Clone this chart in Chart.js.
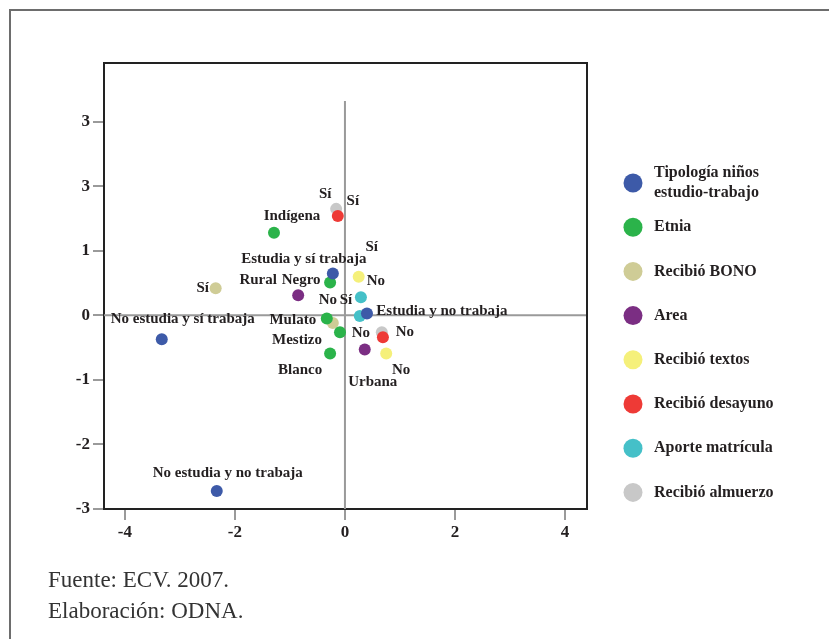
<!DOCTYPE html>
<html>
<head>
<meta charset="utf-8">
<script src="https://cdn.jsdelivr.net/npm/chart.js@4/dist/chart.umd.min.js"></script>
<style>
html,body{margin:0;padding:0;background:#fff;}
canvas{display:block;}
</style>
</head>
<body>
<canvas id="c" width="829" height="639"></canvas>
<script>
// ---------- DATA ----------
const X_TICKS = [-4, -2, 0, 2, 4];
const Y_TICKS = [-3, -2, -1, 0, 1, 2, 3];
const Y_TICK_LABELS = ['-3', '-2', '-1', '0', '1', '3', '3'];

const SERIES_NAMES = [
  ['Tipología niños', 'estudio-trabajo'],
  ['Etnia'],
  ['Recibió BONO'],
  ['Area'],
  ['Recibió textos'],
  ['Recibió desayuno'],
  ['Aporte matrícula'],
  ['Recibió almuerzo']
];

const tipologiaX = [-0.22, 0.40, -3.33, -2.33];
const tipologiaY = [0.65, 0.03, -0.37, -2.72];
const tipologiaLabels = ['Estudia y sí trabaja', 'Estudia y no trabaja', 'No estudia y sí trabaja', 'No estudia y no trabaja'];

const etniaX = [-1.29, -0.27, -0.33, -0.09, -0.27];
const etniaY = [1.28, 0.51, -0.05, -0.26, -0.59];
const etniaLabels = ['Indígena', 'Negro', 'Mulato', 'Mestizo', 'Blanco'];

const bonoX = [-2.35, -0.22];
const bonoY = [0.42, -0.12];
const bonoLabels = ['Sí', 'No'];

const areaX = [-0.85, 0.36];
const areaY = [0.31, -0.53];
const areaLabels = ['Rural', 'Urbana'];

const textosX = [0.25, 0.75];
const textosY = [0.60, -0.59];
const textosLabels = ['Sí', 'No'];

const desayunoX = [-0.13, 0.69];
const desayunoY = [1.54, -0.34];
const desayunoLabels = ['Sí', 'No'];

const matriculaX = [0.29, 0.27];
const matriculaY = [0.28, -0.01];
const matriculaLabels = ['Sí', 'No'];

const almuerzoX = [-0.16, 0.67];
const almuerzoY = [1.65, -0.26];
const almuerzoLabels = ['Sí', 'No'];

// ---------- STYLE / LAYOUT ----------
const COLORS = ['#3d5aa8', '#2bb34a', '#cfcc96', '#7b2e83', '#f5f07a', '#ee3a36', '#45c0c8', '#c8c8c8'];
// label offsets (px) from each point, per series
const LABEL_OFFSETS = [
  [[-29, -14], [75, -2], [21, -20], [11, -18]],
  [[18, -17], [-29, -2], [-34, 2], [-43, 8], [-30, 17]],
  [[-13, 0], [-5, -23]],
  [[-40, -15], [8, 33]],
  [[13, -30], [15, 17]],
  [[15, -15], [-22, -4]],
  [[-15, 3], [16, -35]],
  [[-11, -15], [23, 0]]
];

const seriesX = [tipologiaX, etniaX, bonoX, areaX, textosX, desayunoX, matriculaX, almuerzoX];
const seriesY = [tipologiaY, etniaY, bonoY, areaY, textosY, desayunoY, matriculaY, almuerzoY];
const seriesLabels = [tipologiaLabels, etniaLabels, bonoLabels, areaLabels, textosLabels, desayunoLabels, matriculaLabels, almuerzoLabels];

const datasets = seriesX.map((xs, i) => ({
  label: SERIES_NAMES[i].join(' '),
  data: xs.map((x, j) => ({x: x, y: seriesY[i][j]})),
  pointLabels: seriesLabels[i],
  backgroundColor: COLORS[i],
  borderColor: COLORS[i],
  pointRadius: 6,
  pointBorderWidth: 0
}));

const SERIF = '"Liberation Serif", "Times New Roman", serif';
const TEXT_COLOR = '#231f20';

const decor = {
  id: 'decor',
  beforeDraw(chart) {
    const c = chart.ctx;
    c.save();
    c.fillStyle = '#fff';
    c.fillRect(0, 0, chart.width, chart.height);
    c.strokeStyle = '#6d6d6d';
    c.lineWidth = 2;
    c.beginPath();
    c.moveTo(10, chart.height);
    c.lineTo(10, 10);
    c.lineTo(chart.width, 10);
    c.stroke();
    c.restore();
  },
  beforeDatasetsDraw(chart) {
    const c = chart.ctx, xs = chart.scales.x, ys = chart.scales.y, a = chart.chartArea;
    c.save();
    c.strokeStyle = '#9a9a9a';
    c.lineWidth = 2;
    const x0 = xs.getPixelForValue(0), y0 = ys.getPixelForValue(0);
    c.beginPath();
    c.moveTo(x0, ys.getPixelForValue(3.32));
    c.lineTo(x0, a.bottom);
    c.moveTo(a.left, y0);
    c.lineTo(a.right, y0);
    c.stroke();
    c.restore();
  },
  afterDatasetsDraw(chart) {
    const c = chart.ctx;
    c.save();
    c.font = 'bold 15px ' + SERIF;
    c.fillStyle = TEXT_COLOR;
    c.textAlign = 'center';
    c.textBaseline = 'middle';
    chart.data.datasets.forEach((ds, i) => {
      const meta = chart.getDatasetMeta(i);
      meta.data.forEach((pt, j) => {
        const off = LABEL_OFFSETS[i][j];
        c.fillText(ds.pointLabels[j], pt.x + off[0], pt.y + off[1]);
      });
    });
    c.restore();
  },
  afterDraw(chart) {
    const c = chart.ctx, a = chart.chartArea;
    c.save();
    // top & right borders of plot box
    c.strokeStyle = '#222';
    c.lineWidth = 2;
    c.beginPath();
    c.moveTo(a.left, a.top);
    c.lineTo(a.right, a.top);
    c.lineTo(a.right, a.bottom);
    c.stroke();
    // legend
    c.font = 'bold 16px ' + SERIF;
    c.textAlign = 'left';
    c.textBaseline = 'middle';
    SERIES_NAMES.forEach((lines, i) => {
      const y = 183 + 44.2 * i;
      c.fillStyle = COLORS[i];
      c.beginPath();
      c.arc(633, y, 9.5, 0, Math.PI * 2);
      c.fill();
      c.fillStyle = TEXT_COLOR;
      if (lines.length === 2) {
        c.fillText(lines[0], 654, y - 10);
        c.fillText(lines[1], 654, y + 10);
      } else {
        c.fillText(lines[0], 654, y);
      }
    });
    // footer
    c.font = '23px ' + SERIF;
    c.fillStyle = '#333';
    c.fillText('Fuente: ECV. 2007.', 48, 581);
    c.fillText('Elaboración: ODNA.', 48, 612);
    c.restore();
  }
};

new Chart(document.getElementById('c'), {
  type: 'scatter',
  data: {datasets: datasets},
  options: {
    responsive: false,
    animation: false,
    layout: {padding: {left: 0, top: 63, right: 242, bottom: 0}},
    scales: {
      x: {
        type: 'linear',
        min: -4.38,
        max: 4.4,
        afterBuildTicks: s => { s.ticks = X_TICKS.map(v => ({value: v})); },
        afterFit: s => { s.height = 130; },
        grid: {drawOnChartArea: false, color: '#9a9a9a', lineWidth: 2, tickLength: 11},
        border: {display: true, color: '#222', width: 2},
        ticks: {font: {family: SERIF, size: 17, weight: 'bold'}, color: TEXT_COLOR, padding: 2, maxRotation: 0}
      },
      y: {
        type: 'linear',
        min: -3,
        max: 3.91,
        afterBuildTicks: s => { s.ticks = Y_TICKS.map(v => ({value: v})); },
        afterFit: s => { s.width = 104; },
        grid: {drawOnChartArea: false, color: '#9a9a9a', lineWidth: 2, tickLength: 11},
        border: {display: true, color: '#222', width: 2},
        ticks: {
          font: {family: SERIF, size: 17, weight: 'bold'},
          color: TEXT_COLOR,
          padding: 3,
          callback: v => Y_TICK_LABELS[Y_TICKS.indexOf(v)]
        }
      }
    },
    plugins: {legend: {display: false}, tooltip: {enabled: false}}
  },
  plugins: [decor]
});
</script>
</body>
</html>
